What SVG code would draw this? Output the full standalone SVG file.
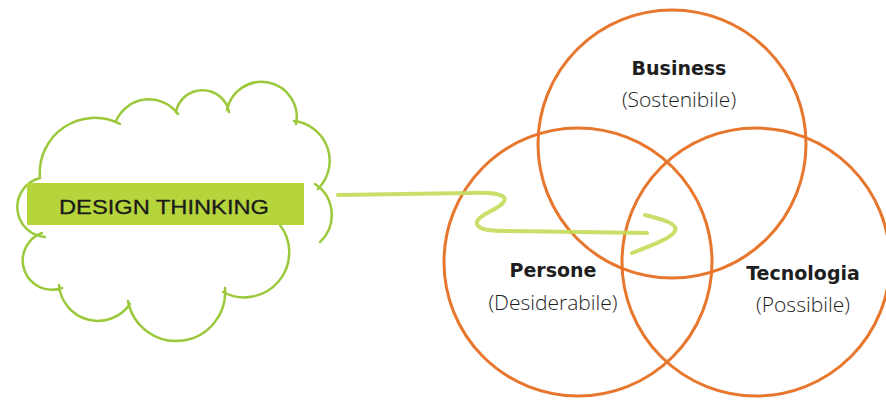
<svg xmlns="http://www.w3.org/2000/svg" width="886" height="400" viewBox="0 0 886 400">
  <style>
    .cloud { fill: none; stroke: #9cc93b; stroke-width: 2.5; stroke-linecap: round; }
    .ring { fill: none; stroke: #e8772e; stroke-width: 3; }
    .flow { fill: none; stroke: #c3dc5c; stroke-width: 4; stroke-linecap: round; stroke-linejoin: round; opacity: 0.92; }
    .title { font-family: "DejaVu Sans", "Liberation Sans", sans-serif; font-weight: bold; font-size: 19px; fill: #1e1e1e; text-anchor: middle; }
    .sub { font-family: "Open Sans", "Liberation Sans", sans-serif; font-weight: 300; font-size: 21px; fill: #1e1e1e; text-anchor: middle; }
    .label { font-family: "Liberation Sans", Arial, sans-serif; font-size: 21px; fill: #1a1a1a; stroke: #1a1a1a; stroke-width: 0.3; }
  </style>
  <rect width="886" height="400" fill="#ffffff"/>

  <!-- Design thinking cloud -->
  <g id="design-thinking">
    <path fill="#ffffff" d="M40,178 A55,55 0 0 1 118,122 A36,36 0 0 1 177,112 A27,27 0 0 1 228,110 A35,35 0 0 1 295,122 A40,40 0 0 1 317,187 L280,225 A45,45 0 0 1 224,290 A49,49 0 0 1 129,302 A39,39 0 0 1 60,287 A27,27 0 0 1 43,235 A30,30 0 0 1 40,178 Z"/>
    <path class="cloud" d="M40,178 A55,55 0 0 1 120,124 M116,121 A36,36 0 0 1 178,114 M176,112 A27,27 0 0 1 229,112 M227,110 A35,35 0 0 1 296,124 M294,121 A40,40 0 0 1 318,189 M315,184 A37,37 0 0 1 320,242 M280,225 A45,45 0 0 1 223,292 M225,288 A49,49 0 0 1 128,301 M130,304 A39,39 0 0 1 59,285 M62,288 A27,27 0 0 1 42,233 M45,237 A30,30 0 0 1 40,178"/>
    <rect x="27" y="183" width="277" height="42" fill="#b6d43c"/>
    <text class="label" x="59" y="214" textLength="210" lengthAdjust="spacingAndGlyphs">DESIGN THINKING</text>
  </g>

  <!-- Venn circles -->
  <g id="business">
    <circle class="ring" cx="672" cy="144" r="134"/>
    <text class="title" x="679" y="75">Business</text>
    <text class="sub" x="679" y="107">(Sostenibile)</text>
  </g>
  <g id="persone">
    <circle class="ring" cx="578" cy="262" r="134"/>
    <text class="title" x="553" y="277">Persone</text>
    <text class="sub" x="553" y="310">(Desiderabile)</text>
  </g>
  <g id="tecnologia">
    <circle class="ring" cx="756" cy="262" r="134"/>
    <text class="title" x="803" y="280">Tecnologia</text>
    <text class="sub" x="803" y="312">(Possibile)</text>
  </g>

  <!-- Connector -->
  <g id="connectors">
    <path class="flow" d="M338,195 L470,193 C500,192 510,196 502,204 C495,211 475,216 477,224 C479,230 490,231 510,231 L647,233"/>
    <path class="flow" d="M645,215 C665,220 678,224 675,231 C672,238 650,246 632,253"/>
  </g>
</svg>
